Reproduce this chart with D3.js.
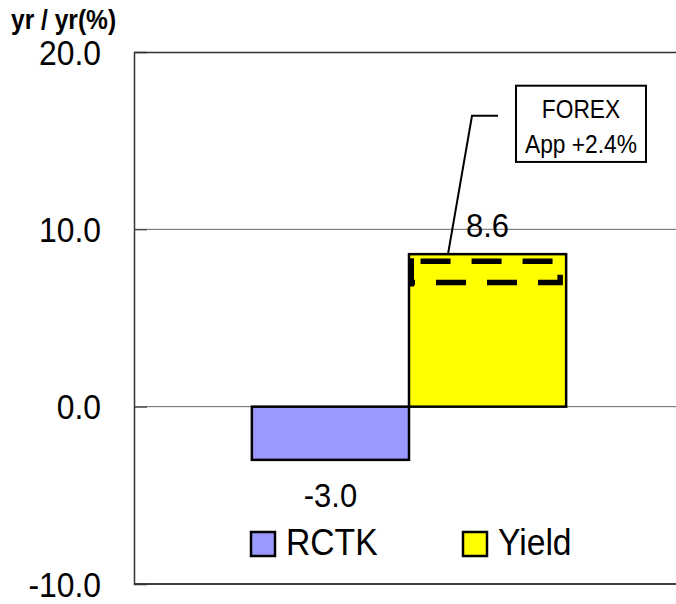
<!DOCTYPE html>
<html>
<head>
<meta charset="utf-8">
<script src="https://cdn.jsdelivr.net/npm/d3@7/dist/d3.min.js"></script>
<style>
  html, body { margin: 0; padding: 0; background: #fff; }
  svg { display: block; font-family: "Liberation Sans", Arial, sans-serif; }
</style>
</head>
<body>
<svg id="chart" width="676" height="604"></svg>
<script>
// Contributions, yr/yr (%)
const categories = ["RCTK", "Yield"];
const values = [-3.0, 8.6];
const colors = ["#9999FF", "#FFFF00"];
const yTicks = [-10, 0, 10, 20];
const yTickLabels = ["-10.0", "0.0", "10.0", "20.0"];
// Dashed band inside the Yield bar and its note
const forexBand = [7.0, 8.2];
const forexNote = ["FOREX", "App +2.4%"];

const svg = d3.select("#chart");
const W = 676, H = 604;
const plot = { left: 134, right: 684, top: 52, bottom: 584 };
const SX = 0.91; // slightly condensed glyphs

const y = d3.scaleLinear().domain([-10, 20]).range([plot.bottom, plot.top]);
const x = d3.scaleBand().domain(categories).range([plot.left, plot.right])
  .paddingInner(0).paddingOuter(0.75);

// Place text at (px, py) with a horizontal condensing factor
function place(sel, px, py) {
  return sel.attr("transform", function (d, i) {
    const X = typeof px === "function" ? px(d, i) : px;
    const Y = typeof py === "function" ? py(d, i) : py;
    return `translate(${X},${Y}) scale(${SX},1)`;
  });
}

// Gridlines
svg.append("g").selectAll("line")
  .data([0, 10])
  .join("line")
  .attr("x1", plot.left).attr("x2", W)
  .attr("y1", d => y(d)).attr("y2", d => y(d))
  .attr("stroke", "#666").attr("stroke-width", 1);

// Top and bottom frame lines
svg.append("line").attr("x1", plot.left).attr("x2", W)
  .attr("y1", y(20) + 0.5).attr("y2", y(20) + 0.5)
  .attr("stroke", "#333").attr("stroke-width", 1.5);
svg.append("line").attr("x1", plot.left).attr("x2", W)
  .attr("y1", y(-10)).attr("y2", y(-10))
  .attr("stroke", "#000").attr("stroke-width", 1.5);

// Y axis with inward ticks
const yAxis = d3.axisRight(y).tickValues(yTicks).tickSize(13).tickFormat("");
const ga = svg.append("g").attr("transform", `translate(${plot.left},0)`).call(yAxis);
ga.select(".domain").attr("stroke", "#333").attr("stroke-width", 1.5);
ga.selectAll(".tick line").attr("stroke", "#333");

place(svg.append("g").selectAll("text")
  .data(yTicks)
  .join("text"), 101, d => y(d))
  .attr("dy", "0.36em")
  .attr("text-anchor", "end")
  .attr("font-size", 35)
  .attr("fill", "#000")
  .text((d, i) => yTickLabels[i]);

// Axis title
place(svg.append("text"), 11, 29)
  .attr("font-size", 27).attr("font-weight", "bold")
  .text("yr / yr(%)");

// Bars
svg.append("g").selectAll("rect")
  .data(categories)
  .join("rect")
  .attr("x", d => x(d))
  .attr("width", x.bandwidth())
  .attr("y", (d, i) => y(Math.max(0, values[i])))
  .attr("height", (d, i) => Math.abs(y(values[i]) - y(0)))
  .attr("fill", (d, i) => colors[i])
  .attr("stroke", "#000")
  .attr("stroke-width", 2.5);

// Value labels
place(svg.append("g").selectAll("text")
  .data(categories)
  .join("text"),
  (d, i) => x(d) + x.bandwidth() / 2,
  (d, i) => values[i] >= 0 ? y(values[i]) - 17 : y(values[i]) + 47)
  .attr("text-anchor", "middle")
  .attr("font-size", 34)
  .text((d, i) => values[i].toFixed(1));

// Dashed FOREX band inside the Yield bar
const bx0 = x("Yield") + 2, bx1 = x("Yield") + x.bandwidth() - 6;
const by0 = y(forexBand[1]), by1 = y(forexBand[0]);
svg.append("path")
  .attr("d", `M${bx0},${by1} L${bx1},${by1} L${bx1},${by0} L${bx0},${by0} Z`)
  .attr("fill", "none")
  .attr("stroke", "#000")
  .attr("stroke-width", 5.5)
  .attr("stroke-dasharray", "30 21")
  .attr("stroke-dashoffset", 26);
svg.append("line")
  .attr("x1", bx0).attr("x2", bx0)
  .attr("y1", by0 - 3).attr("y2", by1 + 4)
  .attr("stroke", "#000").attr("stroke-width", 6);

// Callout box with leader line
const cx0 = x("Yield") + 107, cx1 = x("Yield") + 237;
const cy0 = y(18.1), cy1 = y(13.8);
svg.append("polyline")
  .attr("points", [
    [x("Yield") + 89, y(16.4)],
    [x("Yield") + 63, y(16.4)],
    [x("Yield") + 39, y(8.6)]
  ].map(p => p.join(",")).join(" "))
  .attr("fill", "none").attr("stroke", "#000").attr("stroke-width", 2);
svg.append("rect")
  .attr("x", cx0).attr("y", cy0)
  .attr("width", cx1 - cx0).attr("height", cy1 - cy0)
  .attr("fill", "#fff").attr("stroke", "#000").attr("stroke-width", 2);
place(svg.append("g").selectAll("text")
  .data(forexNote)
  .join("text"),
  (cx0 + cx1) / 2,
  (d, i) => cy0 + 32 + i * 35)
  .attr("text-anchor", "middle")
  .attr("font-size", 25)
  .text(d => d);

// Legend
const legendX = [251, 463];
const lg = svg.append("g").selectAll("g")
  .data(categories)
  .join("g")
  .attr("transform", (d, i) => `translate(${legendX[i]},532)`);
lg.append("rect")
  .attr("width", 24).attr("height", 24)
  .attr("fill", (d, i) => colors[i])
  .attr("stroke", "#000").attr("stroke-width", 2.5);
place(lg.append("text"), 35, 23)
  .attr("font-size", 37)
  .text(d => d);
</script>
</body>
</html>
